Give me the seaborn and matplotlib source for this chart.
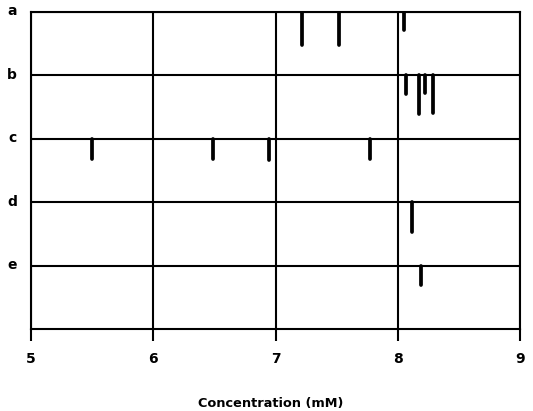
import numpy as np
import pandas as pd
import matplotlib
matplotlib.use("Agg")
import matplotlib.pyplot as plt
from matplotlib.transforms import ScaledTranslation
import seaborn as sns

# ---- data ----
rows = ["a", "b", "c", "d", "e"]
conc_a = [7.22, 7.52, 8.05]
height_a = [0.52, 0.52, 0.28]
conc_b = [8.07, 8.17, 8.22, 8.29]
height_b = [0.30, 0.60, 0.27, 0.59]
conc_c = [5.50, 6.49, 6.95, 7.77]
height_c = [0.31, 0.31, 0.33, 0.31]
conc_d = [8.12]
height_d = [0.46]
conc_e = [8.19]
height_e = [0.30]
x_ticks = [5, 6, 7, 8, 9]
x_label = "Concentration (mM)"

concs = [conc_a, conc_b, conc_c, conc_d, conc_e]
heights = [height_a, height_b, height_c, height_d, height_e]
levels = {r: len(rows) - i for i, r in enumerate(rows)}

recs = []
k = 0
for r, cs, hs in zip(rows, concs, heights):
    for c, h in zip(cs, hs):
        base = levels[r]
        recs.append({"id": k, "row": r, "conc": c, "y": base})
        recs.append({"id": k, "row": r, "conc": c, "y": base - h})
        k += 1
df = pd.DataFrame(recs)

sns.set_style("white")
plt.rcParams["font.family"] = ["DejaVu Sans"]
plt.rcParams["text.color"] = "black"
plt.rcParams["xtick.color"] = "black"
plt.rcParams["ytick.color"] = "black"
plt.rcParams["axes.labelcolor"] = "black"

fig = plt.figure(figsize=(5.33, 4.11), dpi=100)
ax = fig.add_axes([31 / 533, 1 - 329.3 / 411, (520 - 31) / 533, (329.3 - 12) / 411])

sns.lineplot(data=df, x="conc", y="y", units="id", estimator=None, sort=False,
             color="black", lw=2.7, solid_capstyle="round", ax=ax, legend=False)

ax.set_xlim(5, 9)
ax.set_ylim(0, 5)
ax.set_xticks(x_ticks)
ax.set_xticklabels([str(t) for t in x_ticks], fontsize=10, fontweight="bold", color="black")
ax.set_yticks([levels[r] for r in rows])
ax.set_yticklabels(rows, fontsize=10, fontweight="bold", color="black")
ax.grid(True, color="black", lw=1.5)
ax.set_axisbelow(True)
for s in ax.spines.values():
    s.set_visible(True)
    s.set_color("black")
    s.set_linewidth(1.5)
ax.tick_params(axis="x", direction="out", length=8.5, width=1.5, color="black", pad=7.5,
               bottom=True)
ax.tick_params(axis="y", length=0, pad=10)
off = ScaledTranslation(0, 2 / 100, fig.dpi_scale_trans)
for lab in ax.get_yticklabels():
    lab.set_transform(lab.get_transform() + off)

ax.set_xlabel(x_label, fontsize=9.3, fontweight="bold", color="black")
ax.xaxis.set_label_coords(0.49, -0.212)
ax.set_ylabel("")

fig.savefig("out.png", dpi=100)
